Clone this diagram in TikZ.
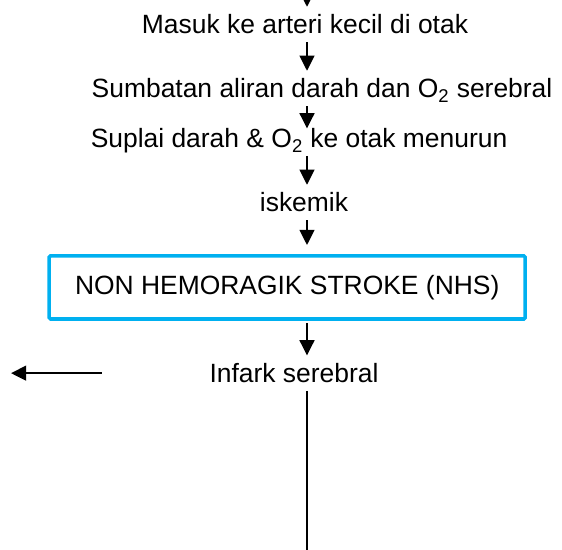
\documentclass[tikz,border=0pt]{standalone}
\usepackage{fontspec}
\setmainfont{Liberation Sans}
\usepackage{xcolor}
\usepackage{tikz}
\usetikzlibrary{arrows.meta, positioning, calc}

\definecolor{nhsblue}{RGB}{0,176,240}

\begin{document}
\begin{tikzpicture}[
    teks/.style={anchor=base, inner xsep=0pt, inner ysep=0.2cm, text height=13.45pt, text depth=0pt, font=\fontsize{18.8}{22}\selectfont},
    kotak/.style={rectangle, draw=nhsblue, line width=2.5pt, rounded corners=1pt, minimum width=11.9cm, minimum height=1.58cm, font=\fontsize{18.8}{22}\selectfont},
    panah/.style={-{Triangle[length=0.38cm, width=0.37cm]}, line width=1.4pt}
]
\useasboundingbox (0,0) rectangle (14.05,-13.75);

\coordinate (atas) at (7.675,0);
\coordinate (kiri) at (0.275,0);
\coordinate (bawah) at (7.675,-13.75);

\node[teks] (masuk) at (7.625,-0.85) {Masuk ke arteri kecil di otak};
\node[teks] (sumbatan) at (8.05,-2.45) {Sumbatan aliran darah dan O\textsubscript{2} serebral};
\node[teks] (suplai) at (7.475,-3.69) {Suplai darah \& O\textsubscript{2} ke otak menurun};
\node[teks] (iskemik) at (7.6,-5.3) {iskemik};
\node[kotak] (nhs) at (7.18,-7.185) {NON HEMORAGIK STROKE (NHS)};
\node[teks] (infark) at (7.35,-9.565) {Infark serebral};

\draw[panah] (atas) -- (masuk.north -| atas);
\draw[panah] (masuk.south -| atas) -- (sumbatan.north -| atas);
\draw[panah, shorten >=-0.2cm] (sumbatan.south -| atas) -- (suplai.north -| atas);
\draw[panah] (suplai.south -| atas) -- (iskemik.north -| atas);
\draw[panah, shorten >=0.225cm] (iskemik.south -| atas) -- (nhs.north -| atas);
\draw[panah, shorten <=0.05cm] (nhs.south -| atas) -- (infark.north -| atas);
\draw[panah, shorten <=2.69cm] (infark.west) -- (infark.west -| kiri);
\draw[line width=1.2pt] (infark.south -| atas) -- (bawah);
\end{tikzpicture}
\end{document}
